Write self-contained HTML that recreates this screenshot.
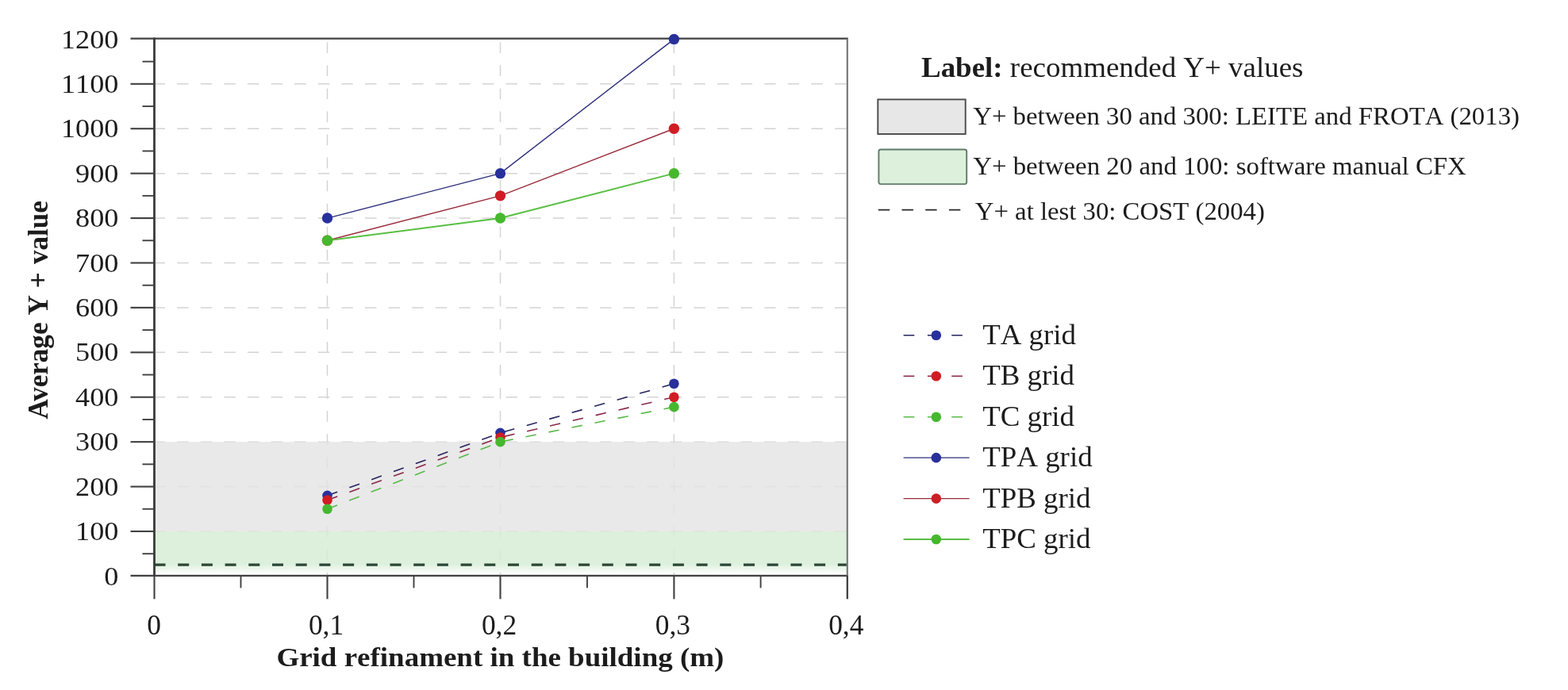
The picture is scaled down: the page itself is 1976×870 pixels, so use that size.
<!DOCTYPE html>
<html lang="en"><head><meta charset="utf-8"><title>Average Y+ value vs grid refinement</title>
<style>
html,body{margin:0;padding:0;background:#fff;}
body{width:1976px;height:870px;overflow:hidden;}
svg{display:block;}
text{font-family:"Liberation Serif",serif;fill:#1c1c1c;font-kerning:none;font-variant-ligatures:none;}
.b{font-weight:bold;}
</style></head><body>
<svg width="1976" height="870" viewBox="0 0 1976 870">
<defs><linearGradient id="gfade" x1="0" y1="0" x2="0" y2="1"><stop offset="0" stop-color="#d4edd4" stop-opacity="0.82"/><stop offset="1" stop-color="#f4faf4" stop-opacity="0.7"/></linearGradient></defs>
<rect x="0" y="0" width="1976" height="870" fill="#ffffff"/>
<g id="grid" stroke="#d4d4d4" stroke-width="1.5" fill="none">
<line x1="193.6" y1="669.98" x2="1067.8" y2="669.98" stroke-dasharray="14.4 15.2"/>
<line x1="193.6" y1="613.57" x2="1067.8" y2="613.57" stroke-dasharray="14.4 15.2"/>
<line x1="193.6" y1="557.15" x2="1067.8" y2="557.15" stroke-dasharray="14.4 15.2"/>
<line x1="193.6" y1="500.73" x2="1067.8" y2="500.73" stroke-dasharray="14.4 15.2"/>
<line x1="193.6" y1="444.32" x2="1067.8" y2="444.32" stroke-dasharray="14.4 15.2"/>
<line x1="193.6" y1="387.9" x2="1067.8" y2="387.9" stroke-dasharray="14.4 15.2"/>
<line x1="193.6" y1="331.48" x2="1067.8" y2="331.48" stroke-dasharray="14.4 15.2"/>
<line x1="193.6" y1="275.07" x2="1067.8" y2="275.07" stroke-dasharray="14.4 15.2"/>
<line x1="193.6" y1="218.65" x2="1067.8" y2="218.65" stroke-dasharray="14.4 15.2"/>
<line x1="193.6" y1="162.23" x2="1067.8" y2="162.23" stroke-dasharray="14.4 15.2"/>
<line x1="193.6" y1="105.82" x2="1067.8" y2="105.82" stroke-dasharray="14.4 15.2"/>
<line x1="412.5" y1="48.7" x2="412.5" y2="725.8" stroke-dasharray="13.7 15.35" stroke-dashoffset="24.45"/>
<line x1="630.5" y1="48.7" x2="630.5" y2="725.8" stroke-dasharray="13.7 15.35" stroke-dashoffset="24.45"/>
<line x1="849.4" y1="48.7" x2="849.4" y2="725.8" stroke-dasharray="13.7 15.35" stroke-dashoffset="24.45"/>
</g>
<g id="bands">
<rect x="194.5" y="557.15" width="873.3" height="112.83" fill="#e4e4e4" fill-opacity="0.82"/>
<rect x="194.5" y="669.98" width="873.3" height="41.02" fill="#d4edd4" fill-opacity="0.82"/>
<rect x="194.5" y="711" width="873.3" height="11" fill="url(#gfade)"/>
</g>
<line x1="194.5" y1="712.1" x2="1067.8" y2="712.1" stroke="#2c4636" stroke-width="3.1" stroke-dasharray="14 15.7"/>
<g id="axes" stroke="#404040" fill="none" stroke-linecap="butt">
<line x1="164.5" y1="48.7" x2="1068.8" y2="48.7" stroke-width="2.3"/>
<line x1="164.5" y1="725.8" x2="1068.8" y2="725.8" stroke-width="2.3"/>
<line x1="194.5" y1="47.55" x2="194.5" y2="726.8" stroke-width="2.8" stroke="#3a3a3a"/>
<line x1="194.5" y1="725.8" x2="194.5" y2="755.3" stroke-width="2.1"/>
<line x1="1067.8" y1="48.7" x2="1067.8" y2="725.8" stroke-width="2.2" stroke="#787878"/>
<line x1="1067.8" y1="725.8" x2="1067.8" y2="755.3" stroke-width="2.3"/>
<line x1="164.5" y1="669.98" x2="194.5" y2="669.98" stroke-width="2.1"/>
<line x1="164.5" y1="613.57" x2="194.5" y2="613.57" stroke-width="2.1"/>
<line x1="164.5" y1="557.15" x2="194.5" y2="557.15" stroke-width="2.1"/>
<line x1="164.5" y1="500.73" x2="194.5" y2="500.73" stroke-width="2.1"/>
<line x1="164.5" y1="444.32" x2="194.5" y2="444.32" stroke-width="2.1"/>
<line x1="164.5" y1="387.9" x2="194.5" y2="387.9" stroke-width="2.1"/>
<line x1="164.5" y1="331.48" x2="194.5" y2="331.48" stroke-width="2.1"/>
<line x1="164.5" y1="275.07" x2="194.5" y2="275.07" stroke-width="2.1"/>
<line x1="164.5" y1="218.65" x2="194.5" y2="218.65" stroke-width="2.1"/>
<line x1="164.5" y1="162.23" x2="194.5" y2="162.23" stroke-width="2.1"/>
<line x1="164.5" y1="105.82" x2="194.5" y2="105.82" stroke-width="2.1"/>
<line x1="179.5" y1="698.19" x2="194.5" y2="698.19" stroke-width="1.9"/>
<line x1="179.5" y1="641.77" x2="194.5" y2="641.77" stroke-width="1.9"/>
<line x1="179.5" y1="585.36" x2="194.5" y2="585.36" stroke-width="1.9"/>
<line x1="179.5" y1="528.94" x2="194.5" y2="528.94" stroke-width="1.9"/>
<line x1="179.5" y1="472.52" x2="194.5" y2="472.52" stroke-width="1.9"/>
<line x1="179.5" y1="416.11" x2="194.5" y2="416.11" stroke-width="1.9"/>
<line x1="179.5" y1="359.69" x2="194.5" y2="359.69" stroke-width="1.9"/>
<line x1="179.5" y1="303.27" x2="194.5" y2="303.27" stroke-width="1.9"/>
<line x1="179.5" y1="246.86" x2="194.5" y2="246.86" stroke-width="1.9"/>
<line x1="179.5" y1="190.44" x2="194.5" y2="190.44" stroke-width="1.9"/>
<line x1="179.5" y1="134.02" x2="194.5" y2="134.02" stroke-width="1.9"/>
<line x1="179.5" y1="77.61" x2="194.5" y2="77.61" stroke-width="1.9"/>
<line x1="412.5" y1="725.8" x2="412.5" y2="755.3" stroke-width="2.1"/>
<line x1="630.5" y1="725.8" x2="630.5" y2="755.3" stroke-width="2.1"/>
<line x1="849.4" y1="725.8" x2="849.4" y2="755.3" stroke-width="2.1"/>
<line x1="303.5" y1="725.8" x2="303.5" y2="741.3" stroke-width="1.9"/>
<line x1="521.5" y1="725.8" x2="521.5" y2="741.3" stroke-width="1.9"/>
<line x1="739.95" y1="725.8" x2="739.95" y2="741.3" stroke-width="1.9"/>
<line x1="958.6" y1="725.8" x2="958.6" y2="741.3" stroke-width="1.9"/>
</g>
<g id="ylabels">
<text text-anchor="end" font-size="34.7" transform="translate(149.4 737.5) scale(1.045 1)">0</text>
<text text-anchor="end" font-size="34.7" transform="translate(149.4 681.08) scale(1.045 1)">100</text>
<text text-anchor="end" font-size="34.7" transform="translate(149.4 624.67) scale(1.045 1)">200</text>
<text text-anchor="end" font-size="34.7" transform="translate(149.4 568.25) scale(1.045 1)">300</text>
<text text-anchor="end" font-size="34.7" transform="translate(149.4 511.83) scale(1.045 1)">400</text>
<text text-anchor="end" font-size="34.7" transform="translate(149.4 455.42) scale(1.045 1)">500</text>
<text text-anchor="end" font-size="34.7" transform="translate(149.4 399) scale(1.045 1)">600</text>
<text text-anchor="end" font-size="34.7" transform="translate(149.4 342.58) scale(1.045 1)">700</text>
<text text-anchor="end" font-size="34.7" transform="translate(149.4 286.17) scale(1.045 1)">800</text>
<text text-anchor="end" font-size="34.7" transform="translate(149.4 229.75) scale(1.045 1)">900</text>
<text text-anchor="end" font-size="34.7" transform="translate(149.4 173.33) scale(1.045 1)">1000</text>
<text text-anchor="end" font-size="34.7" transform="translate(149.4 116.92) scale(1.045 1)">1100</text>
<text text-anchor="end" font-size="34.7" transform="translate(149.4 60.5) scale(1.045 1)">1200</text>
</g>
<g id="xlabels">
<text text-anchor="middle" font-size="35.4" x="194" y="799.8">0</text>
<text text-anchor="middle" font-size="35.4" x="411" y="799.8">0,1</text>
<text text-anchor="middle" font-size="35.4" x="629" y="799.8">0,2</text>
<text text-anchor="middle" font-size="35.4" x="847.9" y="799.8">0,3</text>
<text text-anchor="middle" font-size="35.4" x="1066.3" y="799.8">0,4</text>
</g>
<text class="b" font-size="34.2" text-anchor="middle" x="630.4" y="840.2" textLength="564" lengthAdjust="spacingAndGlyphs">Grid refinament in the building (m)</text>
<text class="b" font-size="35.1" style="font-kerning:normal;word-spacing:1.5px" transform="translate(60.4 528.6) rotate(-90)">Average Y + value</text>
<g id="series" fill="none">
<polyline points="412.5,624.85 630.5,545.87 849.4,483.81" stroke="#25255f" stroke-width="1.6" stroke-dasharray="13.5 16.1"/>
<polyline points="412.5,630.49 630.5,551.51 849.4,500.73" stroke="#8a2848" stroke-width="1.6" stroke-dasharray="13.5 16.1"/>
<polyline points="412.5,641.77 630.5,557.15 849.4,513.14" stroke="#5ab84a" stroke-width="1.6" stroke-dasharray="13.5 16.1"/>
<polyline points="412.5,275.07 630.5,218.65 849.4,49.4" stroke="#2c2e7c" stroke-width="1.4"/>
<polyline points="412.5,303.27 630.5,246.86 849.4,162.23" stroke="#9a2c3c" stroke-width="1.4"/>
<polyline points="412.5,303.27 630.5,275.07 849.4,218.65" stroke="#58bf42" stroke-width="2"/>
<circle cx="412.5" cy="624.85" r="6.3" fill="#28309c"/>
<circle cx="630.5" cy="545.87" r="6.3" fill="#28309c"/>
<circle cx="849.4" cy="483.81" r="6.3" fill="#28309c"/>
<circle cx="412.5" cy="630.49" r="6.3" fill="#d01c24"/>
<circle cx="630.5" cy="551.51" r="6.3" fill="#d01c24"/>
<circle cx="849.4" cy="500.73" r="6.3" fill="#d01c24"/>
<circle cx="412.5" cy="641.77" r="6.3" fill="#46b82e"/>
<circle cx="630.5" cy="557.15" r="6.3" fill="#46b82e"/>
<circle cx="849.4" cy="513.14" r="6.3" fill="#46b82e"/>
<circle cx="412.5" cy="275.07" r="6.7" fill="#28309c"/>
<circle cx="630.5" cy="218.65" r="6.7" fill="#28309c"/>
<circle cx="849.4" cy="49.4" r="6.7" fill="#28309c"/>
<circle cx="412.5" cy="303.27" r="6.7" fill="#d01c24"/>
<circle cx="630.5" cy="246.86" r="6.7" fill="#d01c24"/>
<circle cx="849.4" cy="162.23" r="6.7" fill="#d01c24"/>
<circle cx="412.5" cy="303.27" r="6.7" fill="#46b82e"/>
<circle cx="630.5" cy="275.07" r="6.7" fill="#46b82e"/>
<circle cx="849.4" cy="218.65" r="6.7" fill="#46b82e"/>
</g>
<g id="legend1">
<text font-size="35.4" transform="translate(1161 97) scale(1.044 1)"><tspan class="b">Label:</tspan> recommended Y+ values</text>
<rect x="1106.3" y="125.4" width="110.4" height="43.6" fill="#e7e7e7" stroke="#4a4a4a" stroke-width="1.9"/>
<rect x="1107.4" y="188.5" width="110.8" height="43.6" rx="2.5" fill="#dcf0dc" stroke="#5f7b6b" stroke-width="1.9"/>
<line x1="1106.8" y1="264.6" x2="1212" y2="264.6" stroke="#262626" stroke-width="1.7" stroke-dasharray="14.4 15.3"/>
<text font-size="31" transform="translate(1226.2 157) scale(1.058 1)">Y+ between 30 and 300: LEITE and FROTA (2013)</text>
<text font-size="31" transform="translate(1226.2 219.8) scale(1.060 1)">Y+ between 20 and 100: software manual CFX</text>
<text font-size="31" transform="translate(1228.8 276.8) scale(1.057 1)">Y+ at lest 30: COST (2004)</text>
</g>
<g id="legend2">
<line x1="1138.6" y1="422.8" x2="1213" y2="422.8" stroke="#25255f" stroke-width="1.6" stroke-dasharray="13.7 16.6"/>
<circle cx="1179.8" cy="422.8" r="6.3" fill="#28309c"/>
<text font-size="36.2" transform="translate(1238.2 433.8) scale(1.020 1)">TA grid</text>
<line x1="1138.6" y1="474.25" x2="1213" y2="474.25" stroke="#8a2848" stroke-width="1.6" stroke-dasharray="13.7 16.6"/>
<circle cx="1179.8" cy="474.25" r="6.3" fill="#d01c24"/>
<text font-size="36.2" transform="translate(1238.2 485.25) scale(1.020 1)">TB grid</text>
<line x1="1138.6" y1="525.7" x2="1213" y2="525.7" stroke="#5ab84a" stroke-width="1.6" stroke-dasharray="13.7 16.6"/>
<circle cx="1179.8" cy="525.7" r="6.3" fill="#46b82e"/>
<text font-size="36.2" transform="translate(1238.2 536.7) scale(1.020 1)">TC grid</text>
<line x1="1138.6" y1="577.15" x2="1221.6" y2="577.15" stroke="#2c2e7c" stroke-width="1.4"/>
<circle cx="1179.8" cy="577.15" r="6.3" fill="#28309c"/>
<text font-size="36.2" transform="translate(1238.2 588.15) scale(1.020 1)">TPA grid</text>
<line x1="1138.6" y1="628.6" x2="1221.6" y2="628.6" stroke="#9a2c3c" stroke-width="1.4"/>
<circle cx="1179.8" cy="628.6" r="6.3" fill="#d01c24"/>
<text font-size="36.2" transform="translate(1238.2 639.6) scale(1.020 1)">TPB grid</text>
<line x1="1138.6" y1="680.05" x2="1221.6" y2="680.05" stroke="#58bf42" stroke-width="1.9"/>
<circle cx="1179.8" cy="680.05" r="6.3" fill="#46b82e"/>
<text font-size="36.2" transform="translate(1238.2 691.05) scale(1.020 1)">TPC grid</text>
</g>
</svg>
</body></html>
